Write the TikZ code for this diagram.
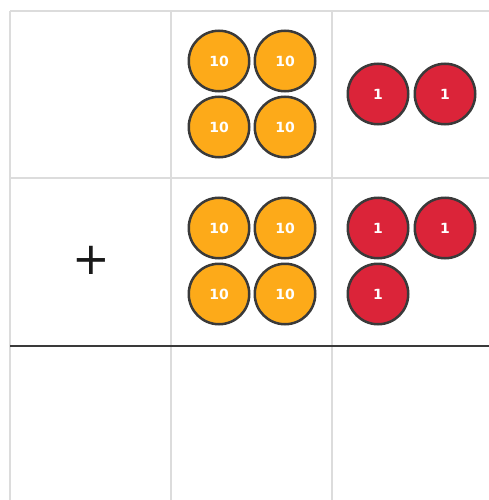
\documentclass[tikz,border=0pt]{standalone}
\usepackage{fontspec}
\setmainfont{DejaVu Sans}
\usetikzlibrary{positioning}
\definecolor{tencol}{HTML}{FDAA19}
\definecolor{onecol}{HTML}{DB2439}
\definecolor{rimcol}{HTML}{3A3A3A}
\definecolor{gridcol}{HTML}{DCDCDC}
\tikzset{
  coin/.style={circle, draw=rimcol, line width=2.5pt, minimum size=60.5pt,
    inner sep=0pt, text=white, font=\bfseries\fontsize{14}{14}\selectfont},
  ten/.style={coin, fill=tencol},
  one/.style={coin, fill=onecol},
  gridline/.style={draw=gridcol, line width=2pt},
}

\begin{document}
\begin{tikzpicture}[x=1pt, y=-1pt]
  \useasboundingbox (0,0) rectangle (489,500);
  % table corners
  \coordinate (TL) at (10,11);
  \coordinate (TR) at (489,11);
  \coordinate (BL) at (10,500);
  \coordinate (C1t) at (171,11);
  \coordinate (C1b) at (171,500);
  \coordinate (C2t) at (332,11);
  \coordinate (C2b) at (332,500);
  \coordinate (R1l) at (10,178);
  \coordinate (R1r) at (489,178);
  \coordinate (R2l) at (10,346);
  \coordinate (R2r) at (489,346);
  \draw[gridline] (TL)--(TR);
  \draw[gridline] (TL)--(BL);
  \draw[gridline] (C1t)--(C1b);
  \draw[gridline] (C2t)--(C2b);
  \draw[gridline] (R1l)--(R1r);
  \draw[rimcol, line width=2pt] (R2l)--(R2r);
  % first number: 4 tens, 2 ones
  \node[ten] (a1) at (219,61) {10};
  \node[ten] (a2) at (285,61) {10};
  \node[ten] (a3) at (219,127) {10};
  \node[ten] (a4) at (285,127) {10};
  \node[one] (b1) at (378,94) {1};
  \node[one] (b2) at (445,94) {1};
  % second number: 4 tens, 3 ones
  \node[ten] (c1) at (219,228) {10};
  \node[ten] (c2) at (285,228) {10};
  \node[ten] (c3) at (219,294) {10};
  \node[ten] (c4) at (285,294) {10};
  \node[one] (d1) at (378,228) {1};
  \node[one] (d2) at (445,228) {1};
  \node[one] (d3) at (378,294) {1};
  \node[font=\fontsize{45}{45}\selectfont, text=black!90] (plus) at (91.5,260) {+};
\end{tikzpicture}
\end{document}
